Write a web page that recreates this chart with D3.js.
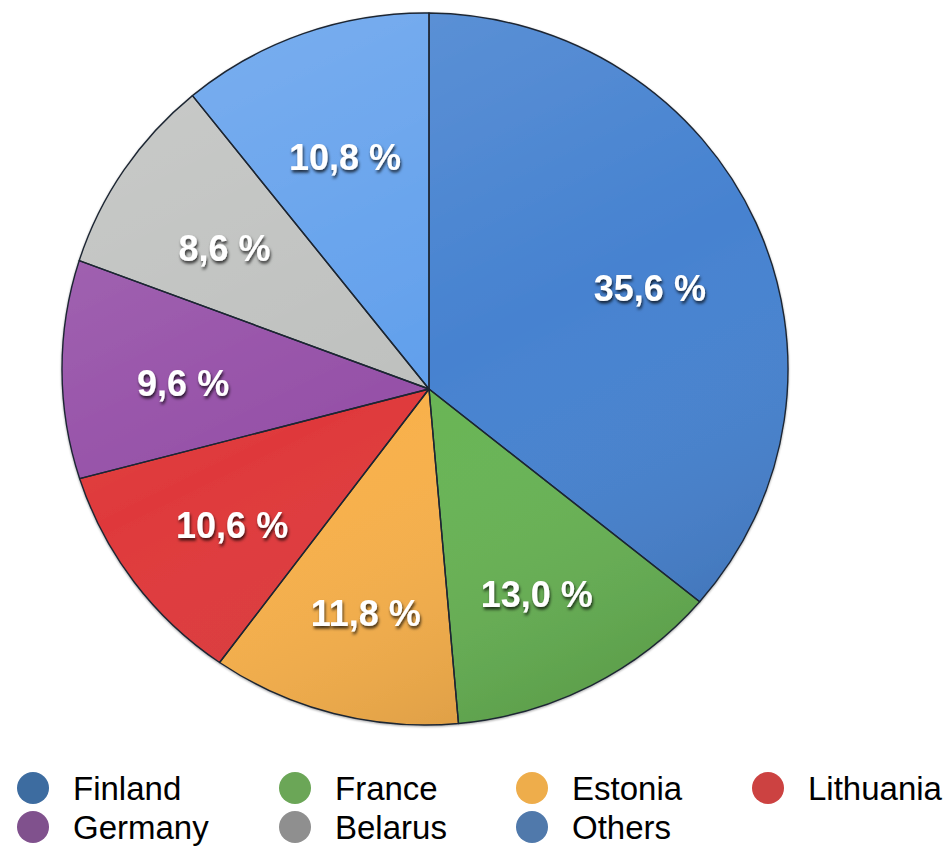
<!DOCTYPE html>
<html>
<head>
<meta charset="utf-8">
<script src="https://cdn.jsdelivr.net/npm/d3@7"></script>
<style>
  html, body { margin: 0; padding: 0; background: #ffffff; }
  svg { display: block; }
</style>
</head>
<body>
<svg id="chart" width="952" height="846"></svg>
<script>
// ---- data ----
const categories = ["Finland", "France", "Estonia", "Lithuania", "Germany", "Belarus", "Others"];
const values = [35.6, 13.0, 11.8, 10.6, 9.6, 8.6, 10.8];
const sliceColors = ["#4682d0", "#68b454", "#f8b04a", "#df393b", "#9651a8", "#bfc1bf", "#62a0ec"];
const legendColors = ["#3d6ca0", "#6ba657", "#eead4b", "#cc4241", "#80518d", "#8f8f8f", "#5079ab"];

const svg = d3.select("#chart");
const defs = svg.append("defs");

// geometry of the slightly perspective pie: outline ellipse + apex
const ell = { cx: 425, cy: 369, rx: 363, ry: 356 };
const apex = { x: 429, y: 389 };

function rim(theta) {
  const dx = Math.sin(theta), dy = -Math.cos(theta);
  const px = (apex.x - ell.cx) / ell.rx, py = (apex.y - ell.cy) / ell.ry;
  const qx = dx / ell.rx, qy = dy / ell.ry;
  const a = qx * qx + qy * qy, b = 2 * (px * qx + py * qy), c = px * px + py * py - 1;
  const t = (-b + Math.sqrt(b * b - 4 * a * c)) / (2 * a);
  return { x: apex.x + t * dx, y: apex.y + t * dy, t: t, dx: dx, dy: dy };
}
function ellAngle(p) { return Math.atan2((p.y - ell.cy) / ell.ry, (p.x - ell.cx) / ell.rx); }

const pie = d3.pie().sort(null).value(d => d)(values);

// shading overlay gradient
const shade = defs.append("linearGradient").attr("id", "shade")
  .attr("gradientUnits", "userSpaceOnUse")
  .attr("x1", 250).attr("y1", ell.cy - ell.ry).attr("x2", 600).attr("y2", ell.cy + ell.ry);
shade.append("stop").attr("offset", "0%").attr("stop-color", "#ffffff").attr("stop-opacity", 0.14);
shade.append("stop").attr("offset", "50%").attr("stop-color", "#ffffff").attr("stop-opacity", 0);
shade.append("stop").attr("offset", "100%").attr("stop-color", "#000000").attr("stop-opacity", 0.14);

const ts = defs.append("filter").attr("id", "tshadow").attr("x", "-20%").attr("y", "-40%").attr("width", "140%").attr("height", "180%");
ts.append("feDropShadow").attr("dx", 1).attr("dy", 2.5).attr("stdDeviation", 1.8)
  .attr("flood-color", "#000").attr("flood-opacity", 0.75);

const os = defs.append("filter").attr("id", "oshadow").attr("x", "-10%").attr("y", "-10%").attr("width", "120%").attr("height", "120%");
os.append("feDropShadow").attr("dx", 0).attr("dy", 1).attr("stdDeviation", 1.2)
  .attr("flood-color", "#000").attr("flood-opacity", 0.35);

function slicePath(d) {
  const p0 = rim(d.startAngle), p1 = rim(d.endAngle);
  let span = ellAngle(p1) - ellAngle(p0);
  while (span < 0) span += 2 * Math.PI;
  const large = span > Math.PI ? 1 : 0;
  return `M${apex.x},${apex.y}L${p0.x},${p0.y}A${ell.rx},${ell.ry} 0 ${large} 1 ${p1.x},${p1.y}Z`;
}

const gPie = svg.append("g").attr("filter", "url(#oshadow)");
gPie.selectAll("path.slice").data(pie).enter().append("path")
  .attr("class", "slice")
  .attr("d", slicePath)
  .attr("fill", (d, i) => sliceColors[i]);
gPie.selectAll("path.shade").data(pie).enter().append("path")
  .attr("class", "shade")
  .attr("d", slicePath)
  .attr("fill", "url(#shade)")
  .attr("stroke", "#1d2633")
  .attr("stroke-width", 1.4)
  .attr("stroke-linejoin", "round");

// labels
const fmt = v => d3.format(".1f")(v).replace(".", ",") + " %";
const labelT = 0.67;
svg.append("g").selectAll("text").data(pie).enter().append("text")
  .attr("x", d => { const m = (d.startAngle + d.endAngle) / 2, p = rim(m); return apex.x + labelT * p.t * p.dx; })
  .attr("y", d => { const m = (d.startAngle + d.endAngle) / 2, p = rim(m); return apex.y + labelT * p.t * p.dy + 6; })
  .attr("dy", "0.36em")
  .attr("text-anchor", "middle")
  .attr("font-family", "'Liberation Sans', Arial, Helvetica, sans-serif")
  .attr("font-weight", "bold")
  .attr("font-size", 36)
  .attr("fill", "#ffffff")
  .attr("filter", "url(#tshadow)")
  .text(d => fmt(d.data));

// legend
const colX = [33, 295, 532, 768];
const rowY = [788, 827];
const leg = svg.append("g").selectAll("g").data(categories).enter().append("g")
  .attr("transform", (d, i) => `translate(${colX[i % 4]},${rowY[Math.floor(i / 4)]})`);
leg.append("circle").attr("r", 16).attr("fill", (d, i) => legendColors[i]);
leg.append("text")
  .attr("x", 40).attr("dy", "0.36em")
  .attr("font-family", "'Liberation Sans', Arial, Helvetica, sans-serif")
  .attr("font-size", 33)
  .attr("fill", "#000")
  .text(d => d);
</script>
</body>
</html>
